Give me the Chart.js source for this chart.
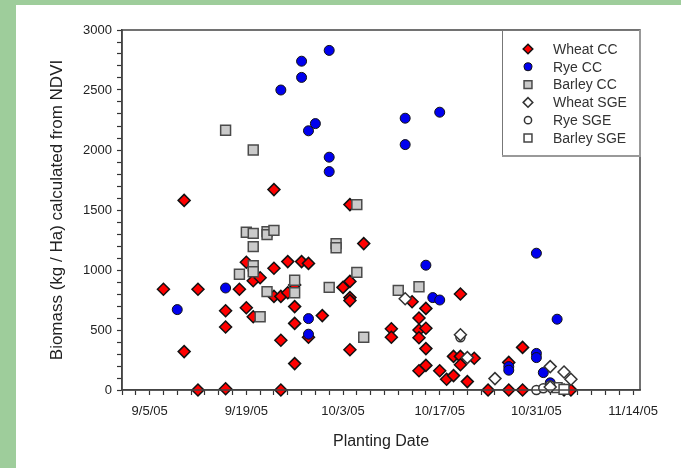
<!DOCTYPE html>
<html>
<head>
<meta charset="utf-8">
<script src="https://cdn.jsdelivr.net/npm/chart.js@4.4.1/dist/chart.umd.min.js"></script>
<style>
  html, body { margin: 0; padding: 0; background: #9ecd9b; }
  #wrap { position: absolute; left: 16px; top: 5px; width: 665px; height: 463px; background: #fff; }
</style>
</head>
<body>
<div id="wrap"><canvas id="myChart"></canvas></div>
<script>
// planting date (2005) and biomass kg/Ha
const wheatCC = [['9/7',840],['9/10',1580],['9/10',320],['9/12',840],['9/12',0],['9/16',660],['9/16',525],['9/16',10],
  ['9/18',840],['9/19',1065],['9/19',685],['9/20',910],['9/20',610],['9/21',935],['9/23',1670],['9/23',1015],['9/23',780],
  ['9/24',780],['9/24',415],['9/24',0],['9/25',1070],['9/25',810],['9/26',875],['9/26',695],['9/26',555],['9/26',220],
  ['9/27',1070],['9/28',1055],['9/28',440],['9/30',620],['10/3',855],['10/4',1545],['10/4',905],['10/4',770],['10/4',745],
  ['10/4',335],['10/6',1220],['10/10',510],['10/10',440],['10/13',735],['10/14',600],['10/14',500],['10/14',435],['10/14',160],
  ['10/15',680],['10/15',515],['10/15',345],['10/15',205],['10/17',160],['10/18',90],['10/19',280],['10/19',120],
  ['10/20',800],['10/20',280],['10/20',210],['10/21',70],['10/22',265],['10/24',0],['10/27',230],['10/27',0],
  ['10/29',355],['10/29',0],['11/4',0],['11/5',0]];
const ryeCC = [['9/9',670],['9/16',850],['9/24',2500],['9/27',2740],['9/27',2605],['9/28',2160],['9/28',595],['9/28',465],
  ['9/29',2220],['10/1',2830],['10/1',1940],['10/1',1820],['10/12',2265],['10/12',2045],['10/15',1040],['10/16',770],
  ['10/17',750],['10/17',2315],['10/27',195],['10/27',165],['10/31',1140],['10/31',305],['10/31',270],['11/1',145],
  ['11/2',60],['11/3',590]];
const barleyCC = [['9/16',2165],['9/18',965],['9/19',1315],['9/20',2000],['9/20',1305],['9/20',1195],['9/20',1035],['9/20',985],
  ['9/21',610],['9/22',1320],['9/22',1295],['9/22',820],['9/23',1330],['9/26',915],['9/26',810],['10/1',855],['10/2',1220],
  ['10/2',1185],['10/5',1545],['10/5',980],['10/6',440],['10/11',830],['10/14',860]];
const wheatSGE = [['10/12',760],['10/20',460],['10/21',270],['10/25',95],['11/2',195],['11/2',25],['11/4',150],['11/5',90]];
const ryeSGE = [['10/20',440],['10/31',0],['11/1',15],['11/2',40]];
const barleySGE = [['11/3',20],['11/4',5]];

const seriesNames = ['Wheat CC', 'Rye CC', 'Barley CC', 'Wheat SGE', 'Rye SGE', 'Barley SGE'];
const xTickDays = [0, 14, 28, 42, 56, 70]; // 9/5/05 ... 11/14/05

const base = Date.UTC(2005, 8, 5);
const DAY = 86400000;
function toDay(s) {
  const p = s.split('/');
  return (Date.UTC(2005, p[0] - 1, +p[1]) - base) / DAY;
}
function pts(list) {
  return list.map(p => ({ x: toDay(p[0]), y: p[1] }));
}
function dateLabel(v) {
  const d = new Date(base + v * DAY);
  return (d.getUTCMonth() + 1) + '/' + d.getUTCDate() + '/05';
}

const FONT = 'Liberation Sans, Arial, sans-serif';

const styles = [
  { pointStyle: 'rectRot', radius: 6, backgroundColor: '#ff0000', borderColor: '#111', borderWidth: 1.5, order: 3 },
  { pointStyle: 'circle', radius: 5, backgroundColor: '#0000ee', borderColor: '#111', borderWidth: 1, order: 1 },
  { pointStyle: 'rect', radius: 7, backgroundColor: '#cacaca', borderColor: '#4a4a4a', borderWidth: 1.5, order: 2 },
  { pointStyle: 'rectRot', radius: 6, backgroundColor: '#ffffff', borderColor: '#333', borderWidth: 1.5, order: 0 },
  { pointStyle: 'circle', radius: 4.5, backgroundColor: '#ffffff', borderColor: '#333', borderWidth: 1.5, order: 0 },
  { pointStyle: 'rect', radius: 7, backgroundColor: '#ffffff', borderColor: '#444', borderWidth: 1.5, order: 0 }
];
const allData = [wheatCC, ryeCC, barleyCC, wheatSGE, ryeSGE, barleySGE];

const datasets = allData.map((d, i) => ({
  label: seriesNames[i],
  data: pts(d),
  pointStyle: styles[i].pointStyle,
  pointRadius: styles[i].radius,
  pointBackgroundColor: styles[i].backgroundColor,
  pointBorderColor: styles[i].borderColor,
  pointBorderWidth: styles[i].borderWidth,
  order: styles[i].order,
  clip: false
}));

// frame round the plot and boxed legend in the top right corner
const framePlugin = {
  id: 'frame',
  afterDraw(chart) {
    const ctx = chart.ctx, a = chart.chartArea;
    ctx.save();
    ctx.strokeStyle = '#444';
    ctx.lineWidth = 1.5;
    ctx.strokeRect(a.left, a.top, a.right - a.left, a.bottom - a.top);

    const w = 138, h = 126;
    const lx = a.right - w, ly = a.top;
    ctx.fillStyle = '#fff';
    ctx.fillRect(lx, ly, w, h);
    ctx.strokeStyle = '#777';
    ctx.lineWidth = 1;
    ctx.strokeRect(lx + 0.5, ly + 0.5, w - 1, h - 1);
    ctx.strokeStyle = '#999';
    ctx.lineWidth = 2;
    ctx.beginPath();
    ctx.moveTo(lx, ly + h);
    ctx.lineTo(lx + w, ly + h);
    ctx.lineTo(lx + w, ly);
    ctx.stroke();

    ctx.font = '14px ' + FONT;
    ctx.textBaseline = 'middle';
    ctx.textAlign = 'left';
    seriesNames.forEach((name, i) => {
      const y = ly + 19 + i * 17.8;
      const s = styles[i];
      ctx.fillStyle = s.backgroundColor;
      ctx.strokeStyle = s.borderColor;
      ctx.lineWidth = s.borderWidth;
      Chart.helpers.drawPoint(ctx, { pointStyle: s.pointStyle, radius: s.radius * 0.8, rotation: 0, borderWidth: s.borderWidth }, lx + 26, y);
      ctx.fillStyle = '#333';
      ctx.fillText(name, lx + 51, y + 1);
    });
    ctx.restore();
  }
};

new Chart(document.getElementById('myChart'), {
  type: 'scatter',
  data: { datasets: datasets },
  options: {
    responsive: true,
    maintainAspectRatio: false,
    animation: false,
    layout: { padding: { left: 0, top: 25, right: 41, bottom: 0 } },
    plugins: { legend: { display: false }, tooltip: { enabled: false } },
    scales: {
      x: {
        type: 'linear',
        min: -4,
        max: 71,
        afterBuildTicks(scale) {
          const t = [];
          for (let v = -4; v <= 70; v += 2) t.push({ value: v });
          scale.ticks = t;
        },
        afterFit(scale) { scale.height = 78; },
        grid: { display: true, drawOnChartArea: false, drawTicks: true, tickLength: 5, color: '#333', tickWidth: 1.2 },
        border: { display: true, color: '#444', width: 1.5 },
        ticks: {
          autoSkip: false,
          maxRotation: 0,
          padding: 9,
          color: '#222',
          font: { family: FONT, size: 13 },
          callback: v => xTickDays.includes(v) ? dateLabel(v) : ''
        },
        title: { display: true, text: 'Planting Date', color: '#222', font: { family: FONT, size: 16 }, padding: { top: 0, bottom: 17 } }
      },
      y: {
        min: 0,
        max: 3000,
        afterFit(scale) { scale.width = 106; },
        grid: { display: true, drawOnChartArea: false, drawTicks: true, tickLength: 5, color: '#333', tickWidth: 1.2 },
        border: { display: true, color: '#444', width: 1.5 },
        ticks: {
          stepSize: 100,
          autoSkip: false,
          padding: 5,
          color: '#222',
          font: { family: FONT, size: 13 },
          callback: v => v % 500 === 0 ? v : ''
        },
        title: { display: true, text: 'Biomass (kg / Ha) calculated from NDVI', color: '#222', font: { family: FONT, size: 17 }, padding: { top: 31, bottom: 0 } }
      }
    }
  },
  plugins: [framePlugin]
});
</script>
</body>
</html>
